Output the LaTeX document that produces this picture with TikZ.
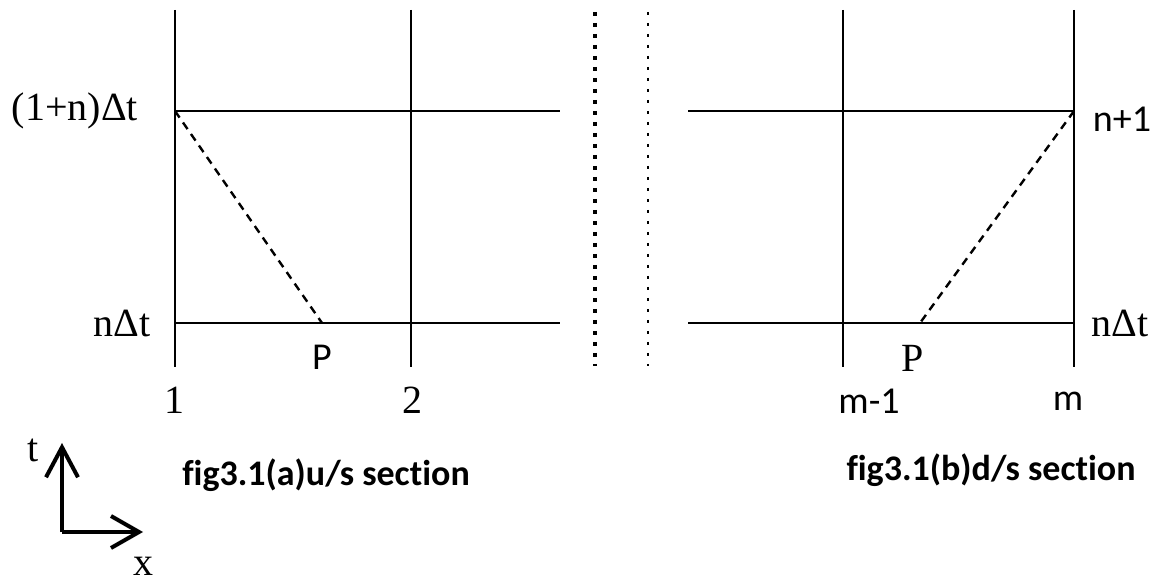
\documentclass[tikz,border=0pt]{standalone}
\usepackage{fontspec}
\setmainfont{Liberation Serif}
\newfontfamily\capfont[Ligatures=NoCommon]{Carlito}
\usetikzlibrary{arrows.meta}

\begin{document}
\begin{tikzpicture}[x=.5pt,y=-.5pt,line width=1.2pt,
  lab/.style={font=\fontsize{20}{22}\selectfont,inner sep=0pt},
  slab/.style={font=\capfont\fontsize{19}{21}\selectfont,inner sep=0pt},
  figcap/.style={font=\capfont\bfseries\fontsize{18}{20}\selectfont,inner sep=0pt},
  charline/.style={dash pattern=on 4pt off 3pt}]
\useasboundingbox (0,0) rectangle (1165,581);
% grid lines of both sections
\foreach \n/\x in {a1/175,a2/411,b1/843,b2/1074}{
  \coordinate (\n top) at (\x,10);
  \coordinate (\n bot) at (\x,367);
  \draw (\n top) -- (\n bot);
}
\foreach \n/\y in {up/111,lo/323}{
  \coordinate (a\n L) at (175,\y);
  \coordinate (a\n R) at (560,\y);
  \coordinate (b\n L) at (688,\y);
  \coordinate (b\n R) at (1074,\y);
  \draw (a\n L) -- (a\n R);
  \draw (b\n L) -- (b\n R);
}
% characteristics
\coordinate (Pa) at (322,323);
\coordinate (Pb) at (920,323);
\draw[charline] (aupL) -- (Pa);
\draw[charline] (bupR) -- (Pb);
% separators
\coordinate (s1top) at (595,12);  \coordinate (s1bot) at (595,366);
\coordinate (s2top) at (648,12);  \coordinate (s2bot) at (648,366);
\draw[line width=2pt,dash pattern=on 2pt off 3.5pt] (s1top) -- (s1bot);
\draw[line width=1.2pt,dash pattern=on 1.5pt off 4pt] (s2top) -- (s2bot);
% labels (a)
\node[lab] (tup) at (75,111) {(1+n)Δt};
\node[lab,anchor=east] (tlo) at (152,323) {nΔt};
\node[slab] (Plab) at (322,357) {P};
\node[lab] (xa1) at (174,400) {1};
\node[lab] (xa2) at (412,400) {2};
% labels (b)
\node[slab] (tupb) at (1122,119) {n+1};
\node[lab] (tlob) at (1120,323) {nΔt};
\node[lab] (Pblab) at (913,358) {P};
\node[slab] (xb1) at (869,401) {m-1};
\node[slab] (xb2) at (1068,401) {m};
% axes
\coordinate (org) at (62,532);
\coordinate (tend) at (62,443);
\coordinate (xend) at (143,532);
\draw[line width=2pt,-{Straight Barb[length=15pt,width=16pt,line width=2pt]}] (org) -- (tend);
\draw[line width=2pt,-{Straight Barb[length=14pt,width=16pt,line width=2pt]}] (org) -- (xend);
\node[lab] (tax) at (33,450) {t};
\node[lab] (xax) at (143,566) {x};
% captions
\node[figcap] (capa) at (326,475) {fig3.1(a)u/s section};
\node[figcap] (capb) at (991,470) {fig3.1(b)d/s section};
\end{tikzpicture}
\end{document}
